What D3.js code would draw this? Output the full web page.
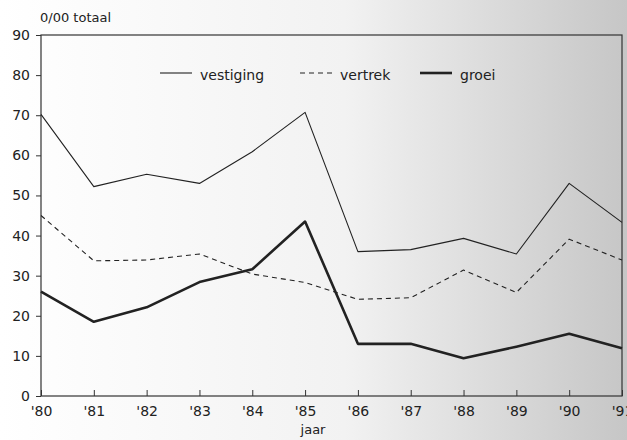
<!DOCTYPE html>
<html>
<head>
<meta charset="utf-8">
<script src="https://cdn.jsdelivr.net/npm/d3@7"></script>
<style>
  body { margin: 0; background: #fff; }
  text { font-family: "DejaVu Sans", sans-serif; fill: #222; }
</style>
</head>
<body>
<svg width="627" height="440"></svg>
<script>
// jaren en reeksen (per 1000 inwoners)
let years = ["'80", "'81", "'82", "'83", "'84", "'85", "'86", "'87", "'88", "'89", "'90", "'91"]
let vestiging = [70.2, 52.2, 55.3, 53, 60.9, 70.7, 36, 36.5, 39.3, 35.4, 53, 43.3]
let vertrek = [45, 33.7, 33.9, 35.4, 30.4, 28.3, 24.1, 24.5, 31.4, 25.8, 39.1, 33.9]
let groei = [26, 18.5, 22.1, 28.4, 31.6, 43.5, 13, 13, 9.4, 12.3, 15.5, 11.9]
let yTicks = [0, 10, 20, 30, 40, 50, 60, 70, 80, 90]

var svg = d3.select("svg")

// scanned page look: gray towards the right
var defs = svg.append("defs")
var grad = defs.append("linearGradient").attr("id", "bg")
grad.append("stop").attr("offset", "0%").attr("stop-color", "#ffffff")
grad.append("stop").attr("offset", "55%").attr("stop-color", "#f2f2f2")
grad.append("stop").attr("offset", "100%").attr("stop-color", "#c6c6c6")
svg.append("rect").attr("width", 627).attr("height", 440).attr("fill", "url(#bg)")

var pL = 41, pR = 622, pT = 35, pB = 396

var x = d3.scalePoint().domain(years).range([pL, pR])
var y = d3.scaleLinear().domain([0, 90]).range([pB, pT])

// frame
svg.append("rect")
  .attr("x", pL).attr("y", pT)
  .attr("width", pR - pL).attr("height", pB - pT)
  .attr("fill", "none").attr("stroke", "#333").attr("stroke-width", 1.2)

// y axis
var yAxis = svg.append("g")
  .attr("transform", "translate(" + pL + ",0)")
  .call(d3.axisLeft(y).tickValues(yTicks).tickSize(5).tickPadding(6))
yAxis.select(".domain").remove()
yAxis.selectAll("line").attr("stroke", "#333")
yAxis.selectAll("text").style("font-size", "14px").attr("fill", "#222")

// x axis, ticks pointing inward
var xAxis = svg.append("g")
  .attr("transform", "translate(0," + pB + ")")
  .call(d3.axisBottom(x).tickSizeInner(-6).tickSizeOuter(0).tickPadding(10))
xAxis.select(".domain").remove()
xAxis.selectAll("line").attr("stroke", "#333")
xAxis.selectAll("text").style("font-size", "14px").attr("fill", "#222")

svg.append("text").attr("x", 40).attr("y", 22).style("font-size", "13px").text("0/00 totaal")
svg.append("text").attr("x", 313).attr("y", 434).style("font-size", "13px").attr("text-anchor", "middle").text("jaar")

var line = d3.line().x((d, i) => x(years[i])).y(d => y(d))

var series = [
  {name: "vestiging", values: vestiging, width: 1.1, dash: null, lx: 160},
  {name: "vertrek", values: vertrek, width: 1.1, dash: "5,4", lx: 300},
  {name: "groei", values: groei, width: 2.6, dash: null, lx: 420}
]

series.forEach(s => {
  svg.append("path")
    .attr("d", line(s.values))
    .attr("fill", "none")
    .attr("stroke", "#222")
    .attr("stroke-width", s.width)
    .attr("stroke-dasharray", s.dash)
    .attr("stroke-linejoin", "round")

  svg.append("line")
    .attr("x1", s.lx).attr("x2", s.lx + 32)
    .attr("y1", 73).attr("y2", 73)
    .attr("stroke", "#222")
    .attr("stroke-width", s.width)
    .attr("stroke-dasharray", s.dash)
  svg.append("text")
    .attr("x", s.lx + 40).attr("y", 80)
    .style("font-size", "14px")
    .text(s.name)
})
</script>
</body>
</html>
